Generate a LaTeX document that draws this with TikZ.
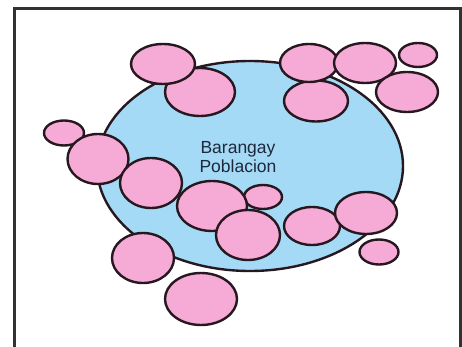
\documentclass[tikz,border=0pt]{standalone}
\usepackage{fontspec}
\setmainfont{Liberation Sans}
\usetikzlibrary{shapes.geometric}
\definecolor{pinkfill}{RGB}{246,170,214}
\definecolor{bluefill}{RGB}{164,218,246}
\definecolor{outl}{RGB}{38,24,30}
\definecolor{framec}{RGB}{50,50,50}
\definecolor{txtc}{RGB}{30,40,60}
\begin{document}
\begin{tikzpicture}[x=1pt,y=-1pt,
  blob/.style={ellipse,draw=outl,line width=2.4pt,inner sep=0pt},
  pinkblob/.style={blob,fill=pinkfill},
  town/.style={blob,fill=bluefill}]
\useasboundingbox (0,0) rectangle (462,347);
\fill[white] (0,0) rectangle (462,347);
\draw[framec,line width=3pt] (14,349) -- (14,9) -- (460,9) -- (460,349);
% main barangay
\node[town,minimum width=306pt,minimum height=210pt] (main) at (250,166) {};
\node[text=txtc,font=\fontsize{17.5}{19}\selectfont,align=center] (label) at (238,157) {Barangay\\Poblacion};
% top-left
\node[pinkblob,minimum width=70pt,minimum height=48pt] (p2) at (200,92) {};
\node[pinkblob,minimum width=64pt,minimum height=40pt] (p1) at (163,64) {};
% top-right
\node[pinkblob,minimum width=64pt,minimum height=41pt] (p7) at (316,101) {};
\node[pinkblob,minimum width=58pt,minimum height=38pt] (p3) at (309,63) {};
\node[pinkblob,minimum width=62pt,minimum height=40pt] (p4) at (365,63) {};
\node[pinkblob,minimum width=62pt,minimum height=40pt] (p6) at (407,92) {};
\node[pinkblob,minimum width=38pt,minimum height=24pt] (p5) at (418,55) {};
% left chain
\node[pinkblob,minimum width=40pt,minimum height=25pt] (p8) at (64,133) {};
\node[pinkblob,minimum width=61pt,minimum height=50pt] (p9) at (98,159) {};
\node[pinkblob,minimum width=62pt,minimum height=50pt] (p10) at (151,183) {};
\node[pinkblob,minimum width=38pt,minimum height=24pt] (p12) at (263,197) {};
\node[pinkblob,minimum width=70pt,minimum height=50pt] (p11) at (212,206) {};
\node[pinkblob,minimum width=64pt,minimum height=50pt] (p13) at (248,235) {};
% lower right
\node[pinkblob,minimum width=56pt,minimum height=38pt] (p14) at (312,226) {};
\node[pinkblob,minimum width=62pt,minimum height=42pt] (p15) at (366,213) {};
\node[pinkblob,minimum width=39pt,minimum height=25pt] (p16) at (379,252) {};
% lower left
\node[pinkblob,minimum width=62pt,minimum height=50pt] (p17) at (143,258) {};
\node[pinkblob,minimum width=72pt,minimum height=52pt] (p18) at (201,299) {};
\end{tikzpicture}
\end{document}
